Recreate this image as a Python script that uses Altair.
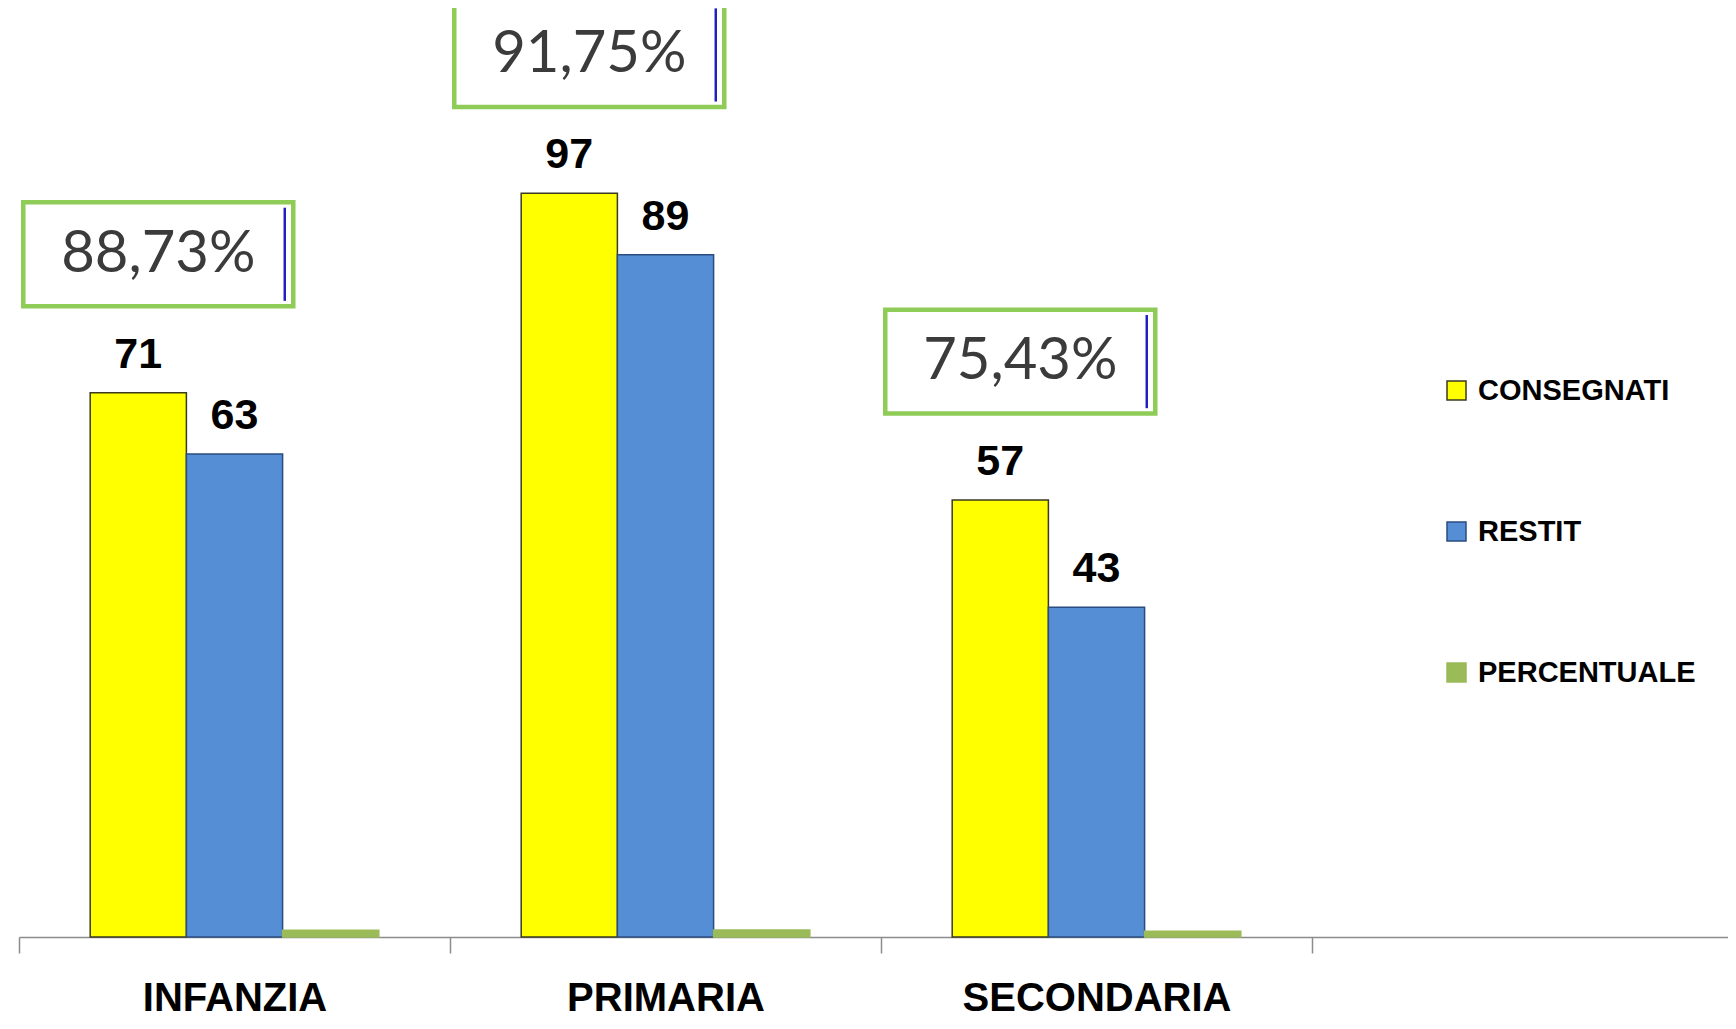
import altair as alt
import pandas as pd

# ---- data ----
categories = ["INFANZIA", "PRIMARIA", "SECONDARIA"]
empty_slot = " "
series = ["CONSEGNATI", "RESTIT", "PERCENTUALE"]
consegnati = [71, 97, 57]
restit = [63, 89, 43]
percentuale = [0.8873, 0.9175, 0.7543]
pct_labels = ["88,73%", "91,75%", "75,43%"]

rows = []
for i, c in enumerate(categories):
    for s, v in zip(series, [consegnati[i], restit[i], percentuale[i]]):
        rows.append({"cat": c, "serie": s, "val": v,
                     "lbl": "" if s == "PERCENTUALE" else str(v)})
bars_df = pd.DataFrame(rows)
box_df = pd.DataFrame({"cat": categories, "serie": [series[0]] * 3,
                       "val": consegnati, "pct": pct_labels})

FILL = ["#FFFF00", "#558ED5", "#9BBB59"]
STROKE = ["#3A3A22", "#2B4C80", "#9BBB59"]

x_enc = alt.X("cat:N",
              scale=alt.Scale(domain=categories + [empty_slot], paddingInner=0, paddingOuter=0),
              axis=alt.Axis(title=None, labelAngle=0, tickBand="extent", tickSize=16,
                            tickColor="#8C8C8C", tickWidth=1.5, domainColor="#8C8C8C",
                            domainWidth=1.5, labelFont="Liberation Sans", labelFontSize=40,
                            labelFontWeight="bold", labelColor="#000000", labelPadding=25,
                            labelLimit=0, grid=False))
xo_enc = alt.XOffset("serie:N", scale=alt.Scale(domain=series, paddingInner=0, paddingOuter=0.74))
y_enc = alt.Y("val:Q", scale=alt.Scale(domain=[0, 120], nice=False, zero=True), axis=None)

legend_props = dict(title=None, orient="none", legendX=1423, legendY=359,
                    symbolType="square", symbolSize=361, symbolStrokeWidth=1.5,
                    labelFont="Liberation Sans", labelFontSize=29, labelFontWeight="bold",
                    labelColor="#000000", rowPadding=111, labelOffset=7, labelLimit=0,
                    padding=0)

bars = alt.Chart(bars_df).mark_bar(strokeWidth=1.5).encode(
    x=x_enc, xOffset=xo_enc, y=y_enc,
    fill=alt.Fill("serie:N", scale=alt.Scale(domain=series, range=FILL),
                  legend=alt.Legend(**legend_props)),
    stroke=alt.Stroke("serie:N", scale=alt.Scale(domain=series, range=STROKE),
                      legend=alt.Legend(**legend_props)),
)

values = alt.Chart(bars_df).mark_text(
    dy=-25, baseline="alphabetic", align="center", font="Liberation Sans",
    fontSize=43, fontWeight="bold", color="#000000"
).encode(x=x_enc, xOffset=xo_enc, y=y_enc, text="lbl:N")

# box shapes, centred 20px right of and ~140px above the top of the CONSEGNATI bar
BOX = "M-0.852,-1.41L1.148,-1.41L1.148,-0.64L-0.852,-0.64Z"
BLUE = "M1.085,-1.37L1.085,-0.68"

boxes = alt.Chart(box_df).mark_point(
    shape=BOX, size=270 ** 2, filled=True, fill="#FFFFFF", stroke="#8FCB57",
    strokeWidth=4.5, opacity=1, fillOpacity=1, strokeOpacity=1
).encode(x=x_enc, xOffset=xo_enc, y=y_enc)

blue_lines = alt.Chart(box_df).mark_point(
    shape=BLUE, size=270 ** 2, filled=False, stroke="#2020C0", strokeWidth=2.5,
    opacity=1, strokeOpacity=1
).encode(x=x_enc, xOffset=xo_enc, y=y_enc)

pct_text = alt.Chart(box_df).mark_text(
    dx=20, dy=-138, baseline="middle", align="center",
    font="Lato", fontSize=58, color="#3B3B3B"
).encode(x=x_enc, xOffset=xo_enc, y=y_enc, text="pct:N")

chart = alt.layer(bars, values, boxes, blue_lines, pct_text).properties(
    width=1724, height=920,
    autosize=alt.AutoSizeParams(type="none"),
    padding={"left": 11, "top": 9, "right": -15, "bottom": 84},
    background="#FFFFFF",
).configure_view(stroke=None)

chart.save("out.html", embed_options={"renderer": "svg", "actions": False})
